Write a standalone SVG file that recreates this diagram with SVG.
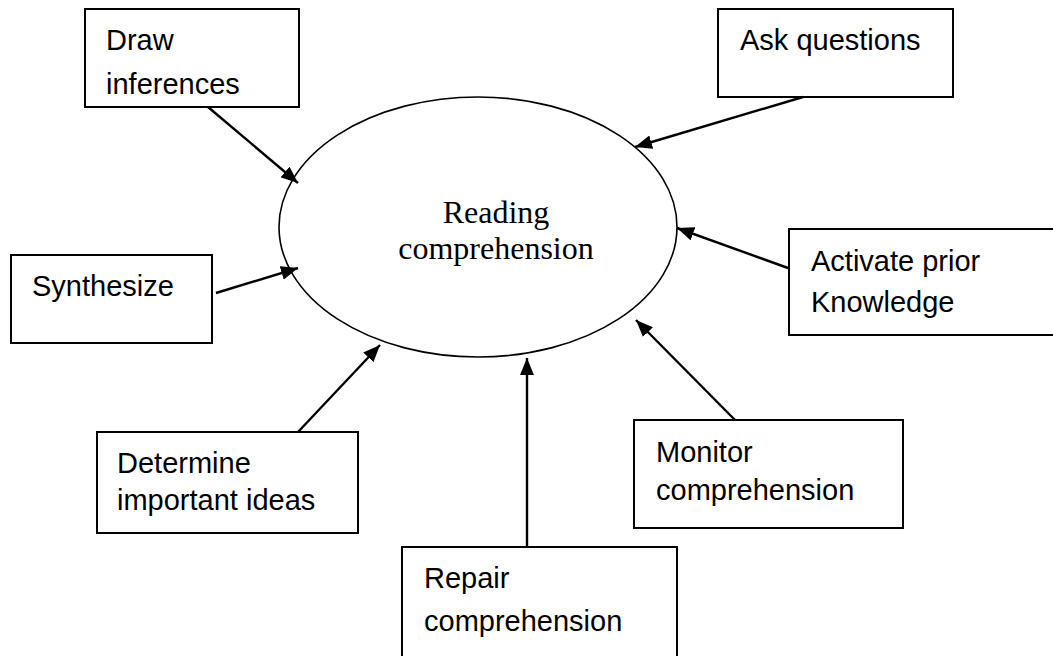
<svg xmlns="http://www.w3.org/2000/svg" width="1053" height="656" viewBox="0 0 1053 656">
<style>
.box{fill:#fff;stroke:#000;stroke-width:2}
.lbl{font-family:"Liberation Sans",Arial,sans-serif;font-size:29px;fill:#000}
.ctr{font-family:"Liberation Serif","Times New Roman",serif;font-size:32px;fill:#000}
.con{stroke:#000;stroke-width:2.4;fill:none;marker-end:url(#ah)}
</style>
<defs>
<marker id="ah" markerUnits="userSpaceOnUse" markerWidth="18" markerHeight="14" refX="17" refY="7" orient="auto">
<path d="M0,0 L17,7 L0,14 z" fill="#000"/>
</marker>
</defs>
<rect width="1053" height="656" fill="#fff"/>
<g id="center">
<ellipse cx="478" cy="227" rx="199" ry="130" fill="#fff" stroke="#000" stroke-width="1.6"/>
<text class="ctr" x="496" y="223" text-anchor="middle">Reading</text>
<text class="ctr" x="496" y="259" text-anchor="middle">comprehension</text>
</g>
<g id="draw-inferences">
<rect class="box" x="85" y="9" width="214" height="98"/>
<text class="lbl" x="106" y="50">Draw</text>
<text class="lbl" x="106" y="94">inferences</text>
</g>
<g id="ask-questions">
<rect class="box" x="718" y="9" width="235" height="88"/>
<text class="lbl" x="740" y="50">Ask questions</text>
</g>
<g id="synthesize">
<rect class="box" x="11" y="255" width="201" height="88"/>
<text class="lbl" x="32" y="296">Synthesize</text>
</g>
<g id="activate-prior-knowledge">
<rect class="box" x="789" y="229" width="290" height="106"/>
<text class="lbl" x="811" y="271">Activate prior</text>
<text class="lbl" x="811" y="312">Knowledge</text>
</g>
<g id="determine-important-ideas">
<rect class="box" x="97" y="432" width="261" height="101"/>
<text class="lbl" x="117" y="473">Determine</text>
<text class="lbl" x="117" y="510">important ideas</text>
</g>
<g id="monitor-comprehension">
<rect class="box" x="634" y="420" width="269" height="108"/>
<text class="lbl" x="656" y="462">Monitor</text>
<text class="lbl" x="656" y="500">comprehension</text>
</g>
<g id="repair-comprehension">
<rect class="box" x="402" y="547" width="275" height="130"/>
<text class="lbl" x="424" y="588">Repair</text>
<text class="lbl" x="424" y="631">comprehension</text>
</g>
<g id="connectors">
<line class="con" x1="208" y1="107" x2="298" y2="183"/>
<line class="con" x1="803" y1="97" x2="635" y2="147"/>
<line class="con" x1="216" y1="293" x2="298" y2="268"/>
<line class="con" x1="788" y1="268" x2="677" y2="228"/>
<line class="con" x1="735" y1="420" x2="636" y2="320"/>
<line class="con" x1="298" y1="432" x2="380" y2="345"/>
<line class="con" x1="527" y1="547" x2="527" y2="358"/>
</g>
</svg>
